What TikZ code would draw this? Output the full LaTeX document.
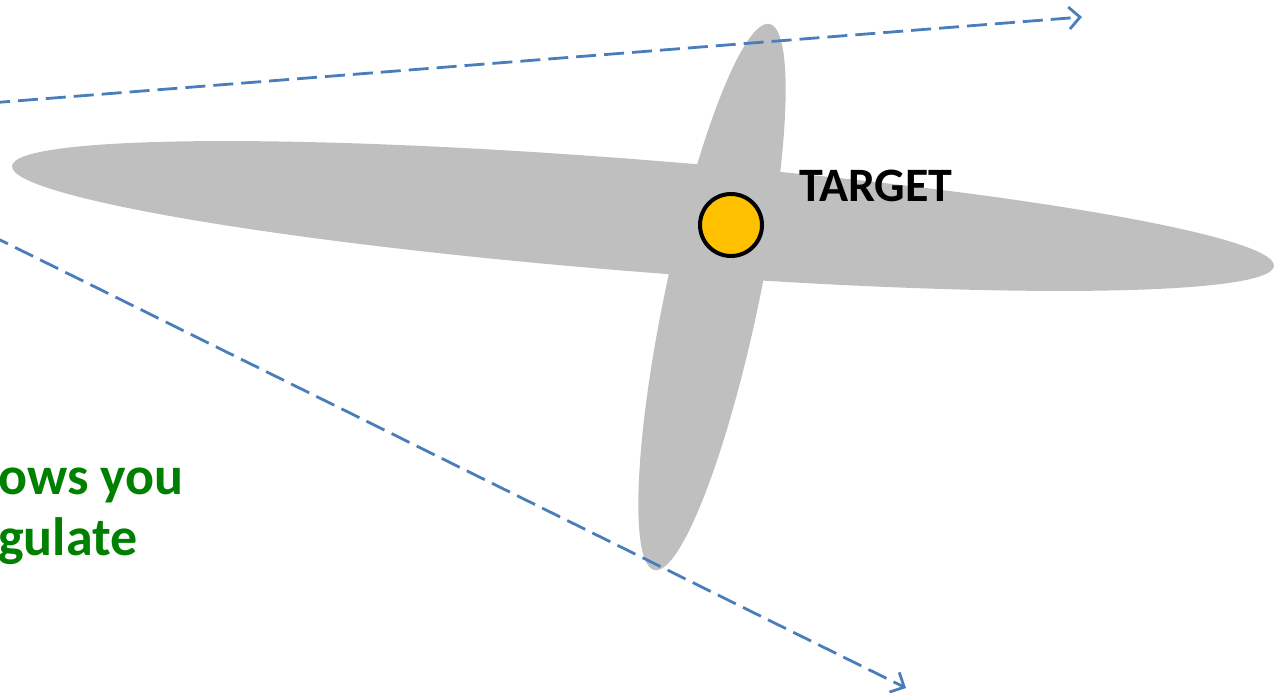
\documentclass[tikz,border=0pt]{standalone}
\usepackage{fontspec}
\setmainfont{Carlito}
\usetikzlibrary{arrows.meta}
\definecolor{blob}{HTML}{BFBFBF}
\definecolor{tgold}{HTML}{FFC000}
\definecolor{ray}{HTML}{4A7EBB}
\definecolor{note}{HTML}{008000}
\tikzset{
  rayline/.style={draw=ray, line width=2.8pt, dash pattern=on 20pt off 8pt, -{Straight Barb[length=11pt,width=22pt,line width=2.8pt]}},
  blobfill/.style={fill=blob},
  targetdot/.style={circle, draw=black, line width=4pt, fill=tgold, minimum size=62pt, inner sep=0pt},
  lbl/.style={inner sep=0pt, font=\bfseries\fontsize{48}{56}\selectfont},
  notelbl/.style={inner sep=0pt, text=note, font=\bfseries\fontsize{54}{60}\selectfont}
}
\begin{document}
\begin{tikzpicture}[x=1pt,y=1pt]
\useasboundingbox (0,0) rectangle (1282,-693);
\clip (0,0) rectangle (1282,-693);
% uncertainty ellipses
\fill[blobfill] (643,-216) ellipse[x radius=633, y radius=56, rotate=-4.53];
\fill[blobfill] (712,-297) ellipse[x radius=279, y radius=47, rotate=78.1];
% target
\node[targetdot] (target) at (731,-225) {};
\node[lbl, anchor=base west] (tlabel) at (799,-201) {TARGET};
% rays
\coordinate (r1s) at (-10,-103);
\coordinate (r1e) at (1082,-17);
\coordinate (r2s) at (-10,-235);
\coordinate (r2e) at (906,-688);
\draw[rayline] (r1s) -- (r1e);
\draw[rayline] (r2s) -- (r2e);
% note text
\node[notelbl, anchor=base west] (n1) at (-2,-494) {ows you};
\node[notelbl, anchor=base west] (n2) at (-2,-555) {gulate};
\end{tikzpicture}
\end{document}
